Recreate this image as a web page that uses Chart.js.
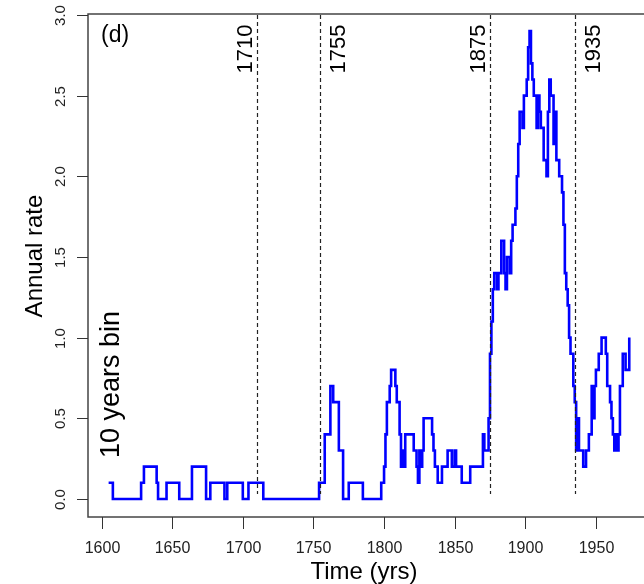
<!DOCTYPE html>
<html>
<head>
<meta charset="utf-8">
<script src="https://cdn.jsdelivr.net/npm/chart.js@4.4.1/dist/chart.umd.min.js"></script>
<style>
  html, body { margin: 0; padding: 0; background: #fff; overflow: hidden; }
  #wrap { width: 660px; height: 584px; }
</style>
</head>
<body>
<div id="wrap"><canvas id="rateChart" width="660" height="584"></canvas></div>
<script>
// Daten: Sprungstellen (Jahr) und Rate ab diesem Jahr
const years = [
    1605, 1608, 1628, 1630, 1639, 1640, 1646, 1655, 1664, 1674, 1677, 1687, 1689, 1700, 1704, 1714.5,
    1754, 1758, 1762, 1764, 1768, 1771, 1775, 1785, 1798, 1800, 1801, 1802, 1804, 1805, 1808, 1809,
    1811, 1812, 1813, 1814, 1815, 1821, 1823, 1824, 1825, 1826, 1827, 1828, 1834, 1835, 1836, 1838,
    1841, 1845, 1848, 1850, 1851, 1855, 1861, 1870, 1871, 1874, 1875, 1876, 1877, 1878, 1880, 1881,
    1883, 1885, 1886, 1887, 1889, 1890, 1891, 1893, 1894, 1895, 1896, 1898, 1899, 1901, 1902, 1903,
    1904, 1905, 1906, 1908, 1909, 1910, 1911, 1913, 1915, 1916, 1917, 1918, 1920, 1921, 1922, 1924,
    1926, 1927, 1928, 1929, 1930, 1931, 1932, 1934, 1935, 1936, 1937, 1938, 1941, 1943, 1945, 1947,
    1948, 1949, 1950, 1952, 1954, 1957, 1958, 1960, 1961, 1962, 1963, 1964, 1965, 1966, 1967, 1969,
    1971, 1973.6
];
const rates = [
    0.1, 0, 0.1, 0.2, 0.1, 0, 0.1, 0, 0.2, 0, 0.1, 0, 0.1, 0, 0.1, 0,
    0.1, 0.4, 0.7, 0.6, 0.3, 0, 0.1, 0, 0.1, 0.2, 0.4, 0.6, 0.7, 0.8, 0.7, 0.6,
    0.4, 0.2, 0.3, 0.2, 0.4, 0.3, 0.2, 0.1, 0.3, 0.2, 0.3, 0.5, 0.4, 0.3, 0.2, 0.1,
    0.2, 0.3, 0.2, 0.3, 0.2, 0.1, 0.2, 0.4, 0.3, 0.5, 0.9, 1.1, 1.3, 1.4, 1.3, 1.4,
    1.6, 1.4, 1.3, 1.5, 1.4, 1.6, 1.7, 1.8, 2.0, 2.2, 2.4, 2.3, 2.5, 2.6, 2.8, 2.9,
    2.7, 2.6, 2.5, 2.3, 2.5, 2.4, 2.3, 2.1, 2.0, 2.4, 2.6, 2.5, 2.2, 2.4, 2.1, 2.0,
    1.9, 1.7, 1.4, 1.3, 1.2, 1.0, 0.9, 0.7, 0.6, 0.3, 0.5, 0.3, 0.2, 0.3, 0.4, 0.7,
    0.5, 0.7, 0.8, 0.9, 1.0, 0.9, 0.7, 0.6, 0.5, 0.4, 0.3, 0.4, 0.3, 0.4, 0.7, 0.9,
    0.8, 1.0
];

// markierte Jahre (gestrichelte Linien)
const markYears = [1710, 1755, 1875, 1935];
const markLabels = ['1710', '1755', '1875', '1935'];

// Achsenbeschriftung
const xTicks = [1600, 1650, 1700, 1750, 1800, 1850, 1900, 1950];
const yTicks = [0, 0.5, 1, 1.5, 2, 2.5, 3];
const yTickLabels = ['0.0', '0.5', '1.0', '1.5', '2.0', '2.5', '3.0'];

const panelLabel = '(d)';
const binLabel = '10 years bin';
const xTitle = 'Time (yrs)';
const yTitle = 'Annual rate';

const FONT = "'Liberation Sans', Arial, sans-serif";

// Rahmen, Achsen, Linien und Texte selbst zeichnen (wie bei R base graphics)
const rAxes = {
    id: 'rAxes',
    afterDatasetsDraw(chart) {
        const { ctx, chartArea: a, scales: { x, y } } = chart;
        ctx.save();

        // gestrichelte Linien
        ctx.strokeStyle = '#222';
        ctx.lineWidth = 1.2;
        ctx.setLineDash([4, 3]);
        markYears.forEach(yr => {
            const px = Math.round(x.getPixelForValue(yr)) + 0.5;
            ctx.beginPath();
            ctx.moveTo(px, y.getPixelForValue(3.0));
            ctx.lineTo(px, y.getPixelForValue(0.03));
            ctx.stroke();
        });
        ctx.setLineDash([]);

        // Jahreszahlen an den Linien (gedreht)
        ctx.fillStyle = '#000';
        ctx.font = `22px ${FONT}`;
        ctx.textAlign = 'center';
        ctx.textBaseline = 'alphabetic';
        markYears.forEach((yr, i) => {
            const px = x.getPixelForValue(yr);
            const bx = (i % 2 === 0) ? px - 5 : px + 25;
            ctx.save();
            ctx.translate(bx, 49);
            ctx.rotate(-Math.PI / 2);
            ctx.fillText(markLabels[i], 0, 0);
            ctx.restore();
        });

        // Rahmen
        ctx.strokeStyle = '#444';
        ctx.lineWidth = 1.5;
        ctx.strokeRect(a.left, a.top, a.right - a.left, a.bottom - a.top);

        // y-Achse
        ctx.strokeStyle = '#333';
        ctx.lineWidth = 1;
        ctx.font = `15px ${FONT}`;
        ctx.fillStyle = '#222';
        yTicks.forEach((v, i) => {
            const py = Math.round(y.getPixelForValue(v)) + 0.5;
            ctx.beginPath();
            ctx.moveTo(a.left, py);
            ctx.lineTo(a.left - 11, py);
            ctx.stroke();
            ctx.save();
            ctx.translate(65, py);
            ctx.rotate(-Math.PI / 2);
            ctx.textAlign = 'center';
            ctx.fillText(yTickLabels[i], 0, 0);
            ctx.restore();
        });

        // x-Achse
        ctx.font = `16px ${FONT}`;
        ctx.textAlign = 'center';
        ctx.textBaseline = 'top';
        xTicks.forEach(v => {
            const px = Math.round(x.getPixelForValue(v)) + 0.5;
            ctx.beginPath();
            ctx.moveTo(px, a.bottom);
            ctx.lineTo(px, a.bottom + 12);
            ctx.stroke();
            ctx.fillText(String(v), px, 541);
        });

        // Achsentitel
        ctx.fillStyle = '#000';
        ctx.font = `24px ${FONT}`;
        ctx.textBaseline = 'middle';
        ctx.fillText(xTitle, 364, 572);
        ctx.save();
        ctx.translate(35, 256);
        ctx.rotate(-Math.PI / 2);
        ctx.fillText(yTitle, 0, 0);
        ctx.restore();

        // Panelbuchstabe und Hinweis
        ctx.font = `23px ${FONT}`;
        ctx.textAlign = 'left';
        ctx.textBaseline = 'middle';
        ctx.fillText(panelLabel, 101, 36);
        ctx.save();
        ctx.translate(119, 458);
        ctx.rotate(-Math.PI / 2);
        ctx.textAlign = 'left';
        ctx.textBaseline = 'alphabetic';
        ctx.font = `27px ${FONT}`;
        ctx.fillText(binLabel, 0, 0);
        ctx.restore();

        ctx.restore();
    }
};

const ctx = document.getElementById('rateChart').getContext('2d');
const rateChart = new Chart(ctx, {
    type: 'line',
    data: {
        datasets: [{
            label: 'Annual rate',
            data: years.map((yr, i) => ({ x: yr, y: rates[i] })),
            stepped: true,
            borderColor: '#0000ff',
            borderWidth: 2.6,
            pointRadius: 0,
            fill: false
        }]
    },
    options: {
        responsive: false,
        animation: false,
        layout: { padding: { left: 88, top: 14, right: 8, bottom: 67 } },
        plugins: { legend: { display: false }, tooltip: { enabled: false } },
        scales: {
            x: { type: 'linear', display: false, min: 1590.4, max: 1989.7 },
            y: { type: 'linear', display: false, min: -0.112, max: 3.006 }
        }
    },
    plugins: [rAxes]
});
</script>
</body>
</html>
